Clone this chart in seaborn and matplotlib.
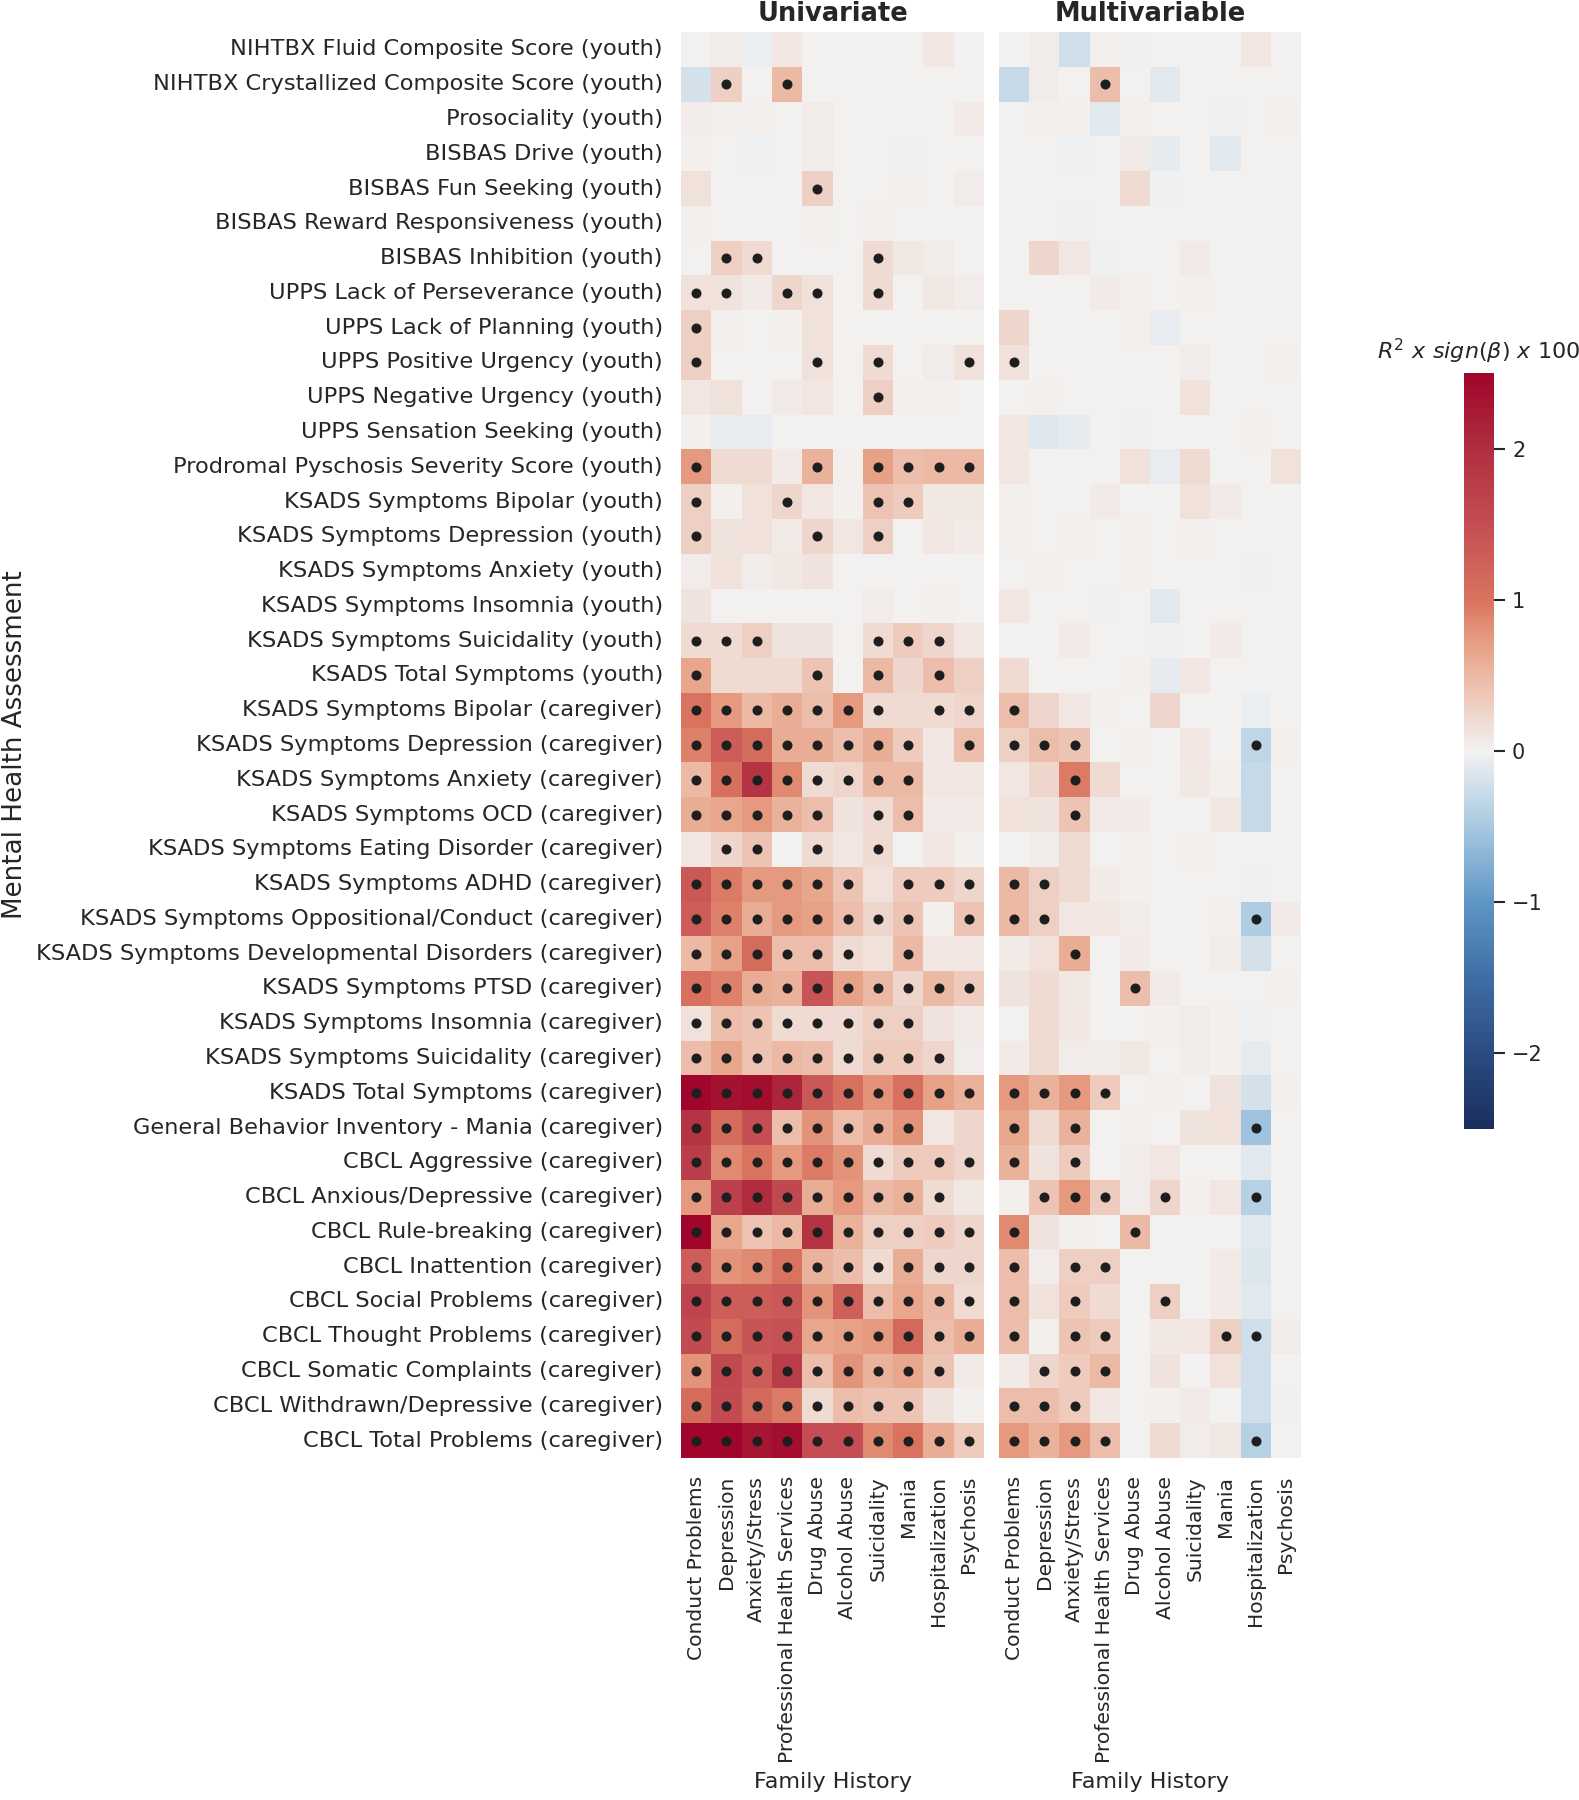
import numpy as np
import pandas as pd
import matplotlib
matplotlib.use("Agg")
import matplotlib.pyplot as plt
from matplotlib.colors import LinearSegmentedColormap
import seaborn as sns

# row / column labels
assessments = [
    "NIHTBX Fluid Composite Score (youth)",
    "NIHTBX Crystallized Composite Score (youth)",
    "Prosociality (youth)",
    "BISBAS Drive (youth)",
    "BISBAS Fun Seeking (youth)",
    "BISBAS Reward Responsiveness (youth)",
    "BISBAS Inhibition (youth)",
    "UPPS Lack of Perseverance (youth)",
    "UPPS Lack of Planning (youth)",
    "UPPS Positive Urgency (youth)",
    "UPPS Negative Urgency (youth)",
    "UPPS Sensation Seeking (youth)",
    "Prodromal Pyschosis Severity Score (youth)",
    "KSADS Symptoms Bipolar (youth)",
    "KSADS Symptoms Depression (youth)",
    "KSADS Symptoms Anxiety (youth)",
    "KSADS Symptoms Insomnia (youth)",
    "KSADS Symptoms Suicidality (youth)",
    "KSADS Total Symptoms (youth)",
    "KSADS Symptoms Bipolar (caregiver)",
    "KSADS Symptoms Depression (caregiver)",
    "KSADS Symptoms Anxiety (caregiver)",
    "KSADS Symptoms OCD (caregiver)",
    "KSADS Symptoms Eating Disorder (caregiver)",
    "KSADS Symptoms ADHD (caregiver)",
    "KSADS Symptoms Oppositional/Conduct (caregiver)",
    "KSADS Symptoms Developmental Disorders (caregiver)",
    "KSADS Symptoms PTSD (caregiver)",
    "KSADS Symptoms Insomnia (caregiver)",
    "KSADS Symptoms Suicidality (caregiver)",
    "KSADS Total Symptoms (caregiver)",
    "General Behavior Inventory - Mania (caregiver)",
    "CBCL Aggressive (caregiver)",
    "CBCL Anxious/Depressive (caregiver)",
    "CBCL Rule-breaking (caregiver)",
    "CBCL Inattention (caregiver)",
    "CBCL Social Problems (caregiver)",
    "CBCL Thought Problems (caregiver)",
    "CBCL Somatic Complaints (caregiver)",
    "CBCL Withdrawn/Depressive (caregiver)",
    "CBCL Total Problems (caregiver)",
]

family_history = ["Conduct Problems", "Depression", "Anxiety/Stress",
                  "Professional Health Services", "Drug Abuse", "Alcohol Abuse",
                  "Suicidality", "Mania", "Hospitalization", "Psychosis"]

# R^2 x sign(beta) x 100, univariate models
uni_values = [
    [0, 0.05, -0.05, 0.1, 0, 0, 0, 0, 0.1, 0],
    [-0.2, 0.3, 0, 0.5, 0, 0, 0, 0, 0, 0],
    [0.05, 0.03, 0.03, 0, 0.05, 0, 0, 0, 0, 0.07],
    [0.02, 0, -0.03, 0, 0.05, 0, 0, -0.02, 0, 0],
    [0.15, 0, 0, 0, 0.3, 0, 0, 0.03, 0, 0.05],
    [0.03, 0, 0, 0, 0.03, 0, 0.03, 0, 0, 0],
    [0, 0.3, 0.2, 0, 0, 0, 0.2, 0.08, 0.05, 0],
    [0.15, 0.12, 0.06, 0.25, 0.15, 0, 0.2, 0, 0.08, 0.04],
    [0.3, 0.03, 0, 0.03, 0.15, 0, 0, 0, 0, 0],
    [0.3, 0, 0, 0, 0.15, 0, 0.2, 0, 0.05, 0.15],
    [0.1, 0.15, 0, 0.07, 0.1, 0, 0.3, 0.02, 0.02, 0],
    [0.02, -0.07, -0.07, 0, 0, 0, 0, 0, 0, 0],
    [0.75, 0.2, 0.2, 0.07, 0.55, 0.02, 0.7, 0.45, 0.5, 0.5],
    [0.3, 0.02, 0.15, 0.25, 0.1, 0.02, 0.4, 0.35, 0.08, 0.08],
    [0.3, 0.12, 0.15, 0.07, 0.25, 0.1, 0.3, 0, 0.1, 0.07],
    [0.05, 0.15, 0.05, 0.08, 0.12, 0, 0, 0, 0, 0],
    [0.12, 0, 0, 0, 0, 0, 0.04, 0, 0.02, 0],
    [0.2, 0.2, 0.3, 0.12, 0.12, 0, 0.2, 0.35, 0.25, 0.1],
    [0.65, 0.2, 0.2, 0.2, 0.4, 0, 0.5, 0.25, 0.45, 0.3],
    [1.0, 0.75, 0.5, 0.6, 0.45, 0.75, 0.2, 0.2, 0.2, 0.25],
    [0.9, 1.3, 1.1, 0.6, 0.6, 0.45, 0.6, 0.35, 0.1, 0.45],
    [0.5, 1.05, 1.9, 0.85, 0.2, 0.25, 0.5, 0.5, 0.1, 0.1],
    [0.6, 0.65, 0.75, 0.55, 0.45, 0.12, 0.2, 0.45, 0.07, 0.07],
    [0.1, 0.25, 0.4, 0.01, 0.2, 0.1, 0.2, 0, 0.1, 0.02],
    [1.35, 0.95, 0.75, 0.75, 0.65, 0.4, 0.15, 0.35, 0.35, 0.25],
    [1.3, 0.9, 0.6, 0.75, 0.7, 0.45, 0.25, 0.4, 0.02, 0.4],
    [0.5, 0.7, 1.1, 0.45, 0.45, 0.2, 0.15, 0.5, 0.1, 0.1],
    [1.05, 0.9, 0.6, 0.55, 1.4, 0.7, 0.5, 0.25, 0.5, 0.35],
    [0.15, 0.45, 0.4, 0.2, 0.2, 0.2, 0.3, 0.3, 0.12, 0.07],
    [0.45, 0.65, 0.4, 0.5, 0.45, 0.2, 0.35, 0.35, 0.25, 0.05],
    [2.5, 2.35, 2.4, 2.1, 1.35, 1.05, 0.8, 1.05, 0.7, 0.55],
    [1.9, 1.1, 1.5, 0.45, 0.8, 0.45, 0.6, 0.8, 0.1, 0.25],
    [1.75, 0.85, 1.0, 0.75, 0.95, 0.8, 0.2, 0.35, 0.35, 0.25],
    [0.75, 1.7, 2.0, 1.6, 0.6, 0.75, 0.5, 0.55, 0.2, 0.08],
    [2.5, 0.65, 0.4, 0.5, 1.9, 0.55, 0.3, 0.3, 0.35, 0.25],
    [1.3, 0.8, 0.85, 1.0, 0.55, 0.45, 0.2, 0.6, 0.25, 0.25],
    [1.65, 1.3, 1.3, 1.35, 0.8, 1.25, 0.45, 0.65, 0.5, 0.2],
    [1.55, 1.1, 1.4, 1.45, 0.65, 0.7, 0.75, 1.15, 0.45, 0.6],
    [0.8, 1.6, 1.3, 1.75, 0.45, 0.8, 0.55, 0.65, 0.4, 0.07],
    [1.1, 1.55, 1.15, 0.95, 0.2, 0.45, 0.4, 0.4, 0.12, 0.03],
    [2.5, 2.5, 2.3, 2.4, 1.5, 1.5, 0.85, 1.0, 0.6, 0.35],
]

# significant cells (1 = dot), univariate
uni_sig = [
    "0000000000", "0101000000", "0000000000", "0000000000", "0000100000",
    "0000000000", "0110001000", "1101101000", "1000000000", "1000101001",
    "0000001000", "0000000000", "1000101111", "1001001100", "1000101000",
    "0000000000", "0000000000", "1110001110", "1000101010", "1111111011",
    "1111111101", "1111111100", "1111101100", "0110101000", "1111110111",
    "1111111101", "1111110100", "1111111111", "1111111100", "1111111110",
    "1111111111", "1111111100", "1111111111", "1111111110", "1111111111",
    "1111111111", "1111111111", "1111111111", "1111111110", "1111111100",
    "1111111111",
]

# R^2 x sign(beta) x 100, multivariable models
multi_values = [
    [0, 0.04, -0.25, 0.03, -0.02, 0, 0, 0, 0.1, 0],
    [-0.3, 0.05, 0, 0.45, 0, -0.1, 0, 0, 0, 0],
    [0, 0.03, 0.03, -0.1, 0.03, 0, 0, -0.03, 0, 0.03],
    [0, 0, -0.03, 0, 0.06, -0.08, 0, -0.1, 0, 0],
    [0, 0, 0, 0, 0.2, -0.03, 0, 0, 0, 0],
    [0, 0, -0.03, 0, 0, 0, 0, 0, 0, 0],
    [0, 0.25, 0.1, -0.03, 0, 0, 0.07, 0, 0, 0],
    [0, 0, 0, 0.06, 0.03, 0, 0.03, 0, 0, 0],
    [0.25, 0, 0, 0, 0.03, -0.07, 0, 0, 0, 0],
    [0.15, 0, 0, 0, 0, 0, 0.05, 0, 0, 0.03],
    [0, 0.03, 0, 0, 0, 0, 0.15, 0, 0, 0],
    [0.1, -0.12, -0.08, 0, -0.02, 0, 0, 0, 0.02, 0],
    [0.1, 0, 0, 0, 0.15, -0.07, 0.2, 0, 0, 0.15],
    [0.03, 0, 0, 0.06, 0, 0, 0.15, 0.06, 0, 0],
    [0.03, 0, 0.03, 0, 0.03, 0, 0.03, 0, 0, 0],
    [0, 0.03, 0, 0, 0.03, 0, 0, 0, -0.03, 0],
    [0.1, 0, 0, -0.03, 0, -0.1, 0, 0, 0, 0],
    [0, 0, 0.06, 0, 0, -0.03, 0, 0.06, 0, 0],
    [0.2, 0, 0, 0, 0.03, -0.08, 0.1, 0, 0, 0],
    [0.45, 0.25, 0.1, 0.03, 0, 0.25, 0, 0, -0.05, 0],
    [0.3, 0.45, 0.4, 0, 0.03, 0, 0.1, 0, -0.35, 0.03],
    [0.1, 0.25, 0.95, 0.2, 0, 0, 0.08, 0.03, -0.3, 0],
    [0.15, 0.12, 0.4, 0.06, 0.06, 0, 0, 0.1, -0.3, 0],
    [0, 0.05, 0.2, 0, 0.02, 0, 0.02, 0, 0, 0],
    [0.5, 0.3, 0.2, 0.06, 0.02, 0, 0, 0, -0.03, 0],
    [0.5, 0.3, 0.1, 0.1, 0.05, 0, 0, 0.02, -0.45, 0.06],
    [0.07, 0.15, 0.6, 0, 0.07, 0, 0, 0.05, -0.2, 0],
    [0.12, 0.2, 0.08, 0, 0.45, 0.07, 0, 0, 0, 0.02],
    [0, 0.2, 0.1, 0, 0, 0.02, 0.04, 0.02, -0.03, 0],
    [0.06, 0.2, 0.05, 0.05, 0.08, 0, 0.05, 0.02, -0.08, 0],
    [0.75, 0.55, 0.75, 0.35, 0, 0.03, 0, 0.12, -0.2, 0.02],
    [0.65, 0.2, 0.55, 0, 0.02, 0, 0.12, 0.15, -0.55, 0],
    [0.55, 0.12, 0.35, 0, 0.04, 0.1, 0, 0, -0.1, 0],
    [0.02, 0.4, 0.75, 0.35, 0.05, 0.25, 0.02, 0.1, -0.4, 0],
    [0.85, 0.12, 0.02, 0.01, 0.5, 0, 0, 0, -0.1, 0],
    [0.45, 0.04, 0.3, 0.3, 0, 0, 0, 0.06, -0.15, 0],
    [0.45, 0.15, 0.35, 0.2, 0, 0.3, 0, 0.06, -0.1, 0],
    [0.45, 0.02, 0.4, 0.35, 0, 0.08, 0.1, 0.3, -0.25, 0.04],
    [0.06, 0.25, 0.35, 0.5, 0, 0.12, 0, 0.15, -0.25, 0],
    [0.45, 0.45, 0.35, 0.1, 0, 0.02, 0.06, 0, -0.25, -0.02],
    [0.75, 0.55, 0.75, 0.45, 0, 0.2, 0.05, 0.08, -0.4, 0],
]

multi_sig = [
    "0000000000", "0001000000", "0000000000", "0000000000", "0000000000",
    "0000000000", "0000000000", "0000000000", "0000000000", "1000000000",
    "0000000000", "0000000000", "0000000000", "0000000000", "0000000000",
    "0000000000", "0000000000", "0000000000", "0000000000", "1000000000",
    "1110000010", "0010000000", "0010000000", "0000000000", "1100000000",
    "1100000010", "0010000000", "0000100000", "0000000000", "0000000000",
    "1111000000", "1010000010", "1010000000", "0111010010", "1000100000",
    "1011000000", "1010010000", "1011000110", "0111000000", "1110000000",
    "1111000010",
]

# colour stops of the diverging scale (value, colour)
scale_values = [-2.5, -2.0, -1.5, -1.0, -0.5, 0.0, 0.5, 0.75, 1.0, 1.5, 2.0, 2.5]
scale_colors = ["#1b2e5d", "#2b4c82", "#3f6ea6", "#5f96c5", "#a8c9e1", "#f2f2f2",
                "#ecb9a4", "#e59a7f", "#d9745f", "#c44e53", "#b02e40", "#a0062b"]

sns.set_theme(style="white")
plt.rcParams["font.family"] = ["DejaVu Sans"]

vmin, vmax = scale_values[0], scale_values[-1]
cmap = LinearSegmentedColormap.from_list(
    "r2sign", [((v - vmin) / (vmax - vmin), c) for v, c in zip(scale_values, scale_colors)])

uni_df = pd.DataFrame(uni_values, index=assessments, columns=family_history)
multi_df = pd.DataFrame(multi_values, index=assessments, columns=family_history)

fig = plt.figure(figsize=(15.79, 18), dpi=100)
ax_uni = fig.add_axes([0.4313, 0.19, 0.1919, 0.7922])
ax_multi = fig.add_axes([0.6327, 0.19, 0.1913, 0.7922])
cax = fig.add_axes([0.9272, 0.3728, 0.019, 0.42])

sns.heatmap(uni_df, ax=ax_uni, cmap=cmap, vmin=vmin, vmax=vmax, cbar=False,
            xticklabels=True, yticklabels=True)
sns.heatmap(multi_df, ax=ax_multi, cmap=cmap, vmin=vmin, vmax=vmax, cbar_ax=cax,
            xticklabels=True, yticklabels=False)

for ax, sig, title in ((ax_uni, uni_sig, "Univariate"), (ax_multi, multi_sig, "Multivariable")):
    mask = np.array([[c == "1" for c in row] for row in sig])
    ys, xs = np.nonzero(mask)
    ax.scatter(xs + 0.5, ys + 0.5, s=52, color="#1e1e1e", zorder=3, linewidths=0)
    ax.set_title(title, fontsize=18.5, fontweight="bold", pad=8)
    ax.set_xlabel("Family History", fontsize=16, labelpad=6)
    ax.tick_params(axis="x", length=0, pad=13, labelsize=14.6, labelrotation=90)
    ax.tick_params(axis="y", length=0, pad=13, labelsize=16.2)

ax_uni.set_ylabel("Mental Health Assessment", fontsize=18.8, labelpad=6)
ax_multi.set_ylabel("")

cax.tick_params(right=True, length=8, width=1.5, labelsize=15, pad=5, color="#262626")
cax.set_title(r"$R^2\ x\ sign(\beta)\ x\ 100$", fontsize=16, pad=10)

fig.savefig("out.png", dpi=100)
